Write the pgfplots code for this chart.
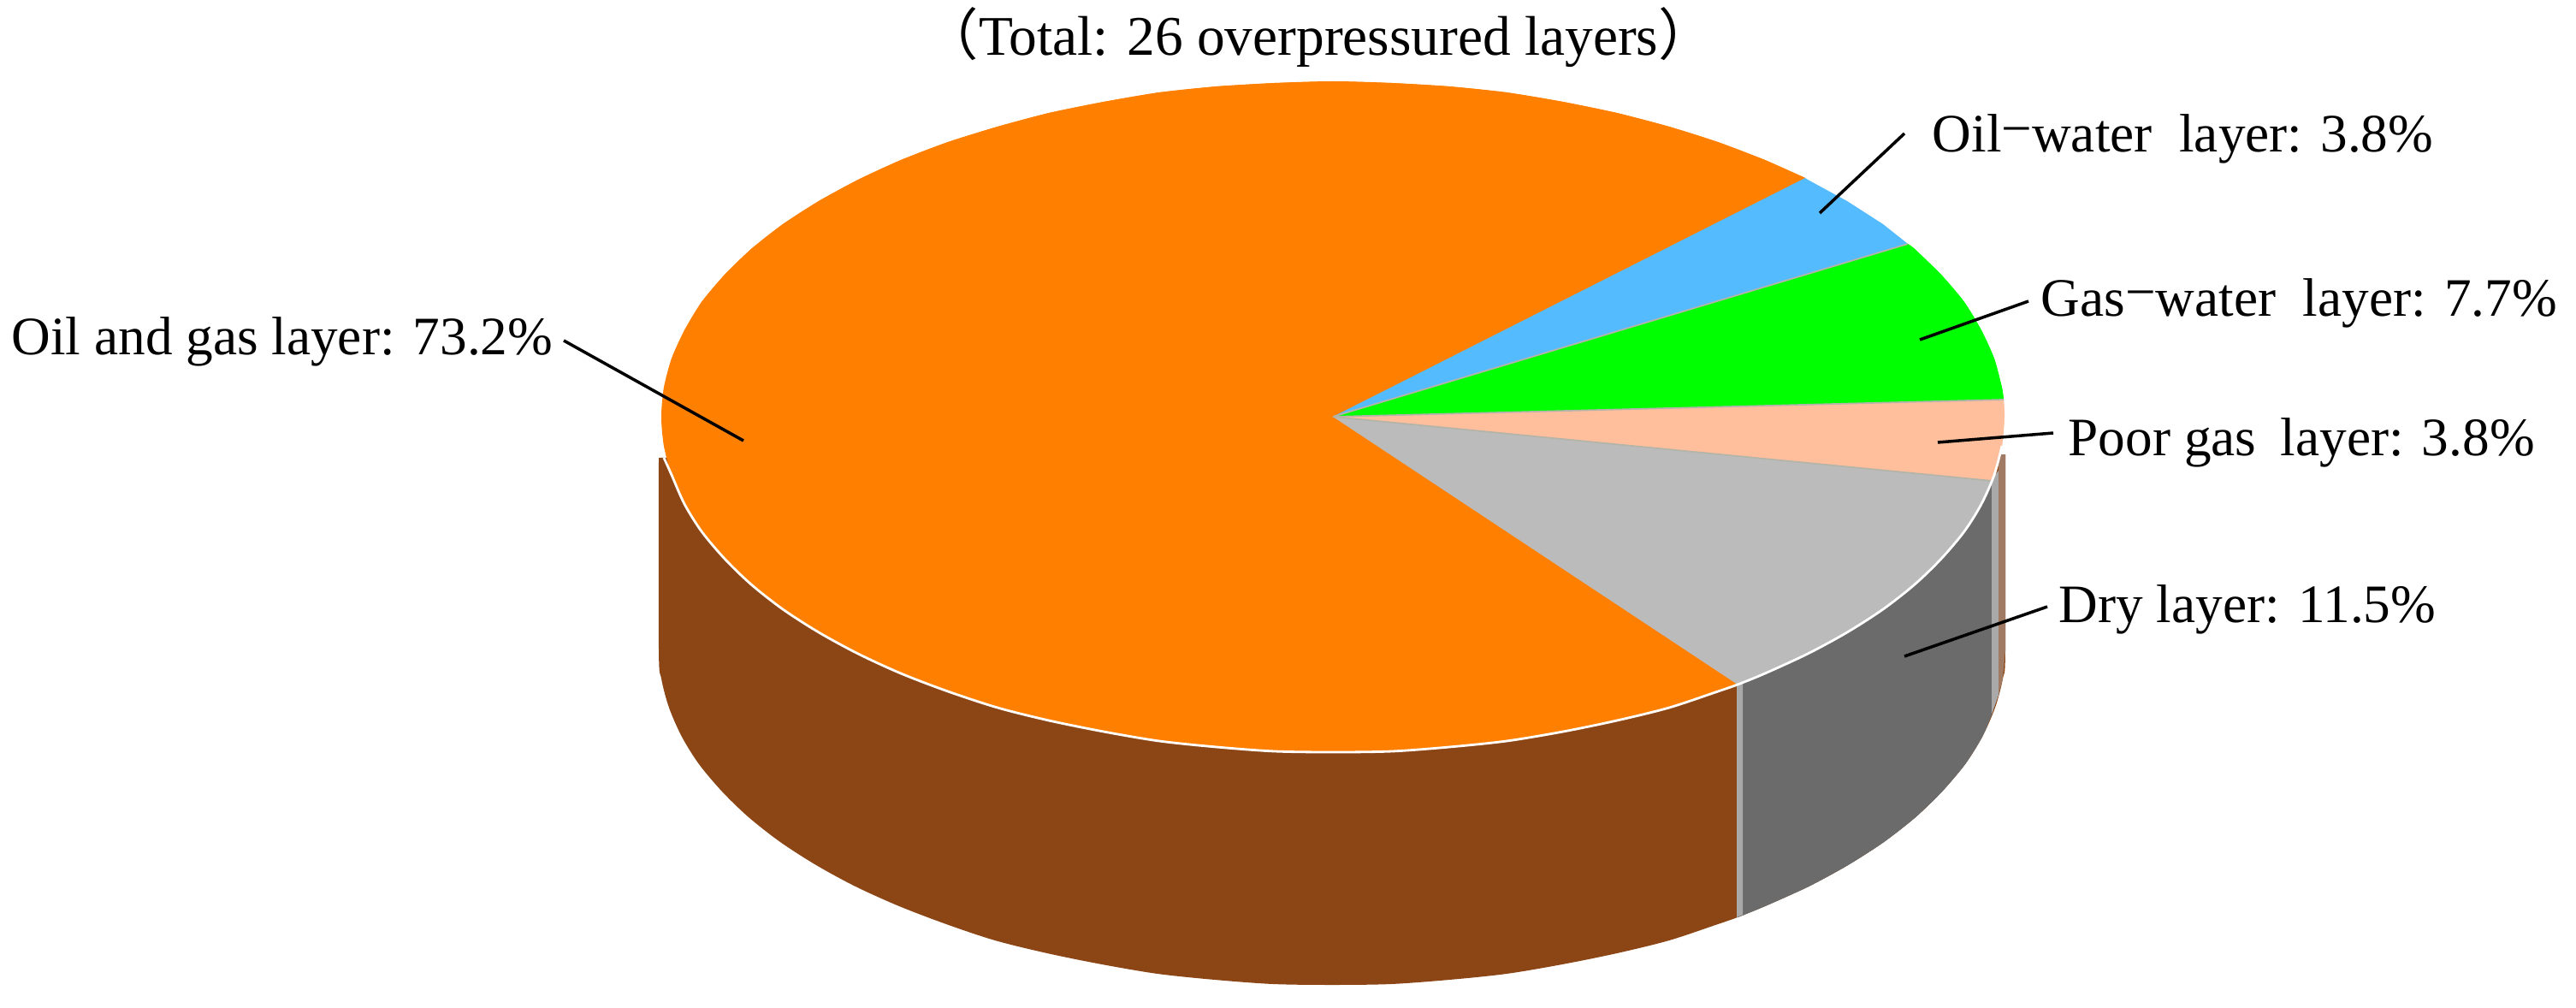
\documentclass[border=0pt]{standalone}
\usepackage{pgfplots}
\pgfplotsset{compat=1.18}
\usepackage{fontspec}
\setmainfont{Liberation Serif}
\newfontfamily\cjk{Noto Sans CJK SC}
\definecolor{cOrange}{HTML}{FF8000}
\definecolor{cBlue}{HTML}{55BBFF}
\definecolor{cGreen}{HTML}{00FF00}
\definecolor{cPeach}{HTML}{FFBE9C}
\definecolor{cGrey}{HTML}{BBBBBB}
\definecolor{cBrown}{HTML}{8C4515}
\definecolor{cDark}{HTML}{6B6B6B}
\definecolor{cStrip}{HTML}{A9A9A9}
\definecolor{cTan}{HTML}{A07A62}
\definecolor{cEdge}{HTML}{B4B4A8}
\newcommand{\dash}{\raisebox{0.1em}{−}}
\tikzset{lbl/.style={anchor=base west, inner sep=0pt, text=black,
  font=\fontsize{18}{20}\selectfont}}
\begin{document}
\begin{tikzpicture}
\begin{axis}[
  scale only axis, width=30.11cm, height=11.78cm,
  xmin=0, xmax=3011, ymin=0, ymax=1178,
  y dir=reverse, hide axis, clip=false,
]
% page extent
\addplot[fill=white, draw=none] coordinates {(0,0)(3011,0)(3011,1178)(0,1178)};

% side wall, whole silhouette in brown
\addplot[fill=cBrown, draw=none, smooth] coordinates {
  (770,535)(770,759)(773,793)(782,827)(797,861)(817,893)(844,925)(875,955)(912,984)
  (954,1011)(1000,1036)(1051,1059)(1106,1080)(1163,1099)(1224,1114)(1288,1127)
  (1353,1138)(1420,1145)(1488,1150)(1557,1151)(1626,1150)(1694,1145)(1761,1138)
  (1826,1127)(1890,1114)(1951,1099)(2008,1080)(2031,1072)(2063,1059)(2114,1036)
  (2160,1011)(2202,984)(2239,955)(2270,925)(2297,893)(2317,861)(2332,827)(2341,793)
  (2344,759)(2344,531)};
% side of the dry slice
\addplot[fill=cDark, draw=none] coordinates {
  (2031,790)(2031,1072)(2063,1059)(2114,1036)(2160,1011)(2202,984)(2239,955)(2270,925)
  (2297,893)(2317,861)(2328,835)(2328,560)};
\addplot[fill=cDark, draw=none, smooth] coordinates {
  (2031,1072)(2063,1059)(2114,1036)(2160,1011)(2202,984)(2239,955)(2270,925)
  (2297,893)(2317,861)(2328,835)};
\addplot[fill=cStrip, draw=none] coordinates {
  (2328,560)(2336,550)(2336,812)(2328,835)};
\addplot[fill=cTan, draw=none] coordinates {
  (2336,531)(2344,531)(2344,759)(2341,793)(2336,812)};
\addplot[fill=cStrip, draw=none] coordinates {
  (2030,795)(2037,795)(2037,1069)(2030,1072)};

% top face: wedges, then the rounded part of each rim
\addplot[fill=cOrange, draw=none] coordinates {
  (1558,487)(2110,208)(2063,187)(2008,166)(1951,148)(1890,132)(1827,119)(1761,108)
  (1694,101)(1627,97)(1558,95)(1490,97)(1422,101)(1355,108)(1290,119)(1226,132)
  (1166,148)(1108,166)(1053,187)(1003,210)(957,235)(915,262)(878,291)(847,321)
  (820,353)(800,386)(785,419)(776,453)(773,487)(776,521)(785,555)(800,589)(820,621)
  (847,653)(878,683)(915,712)(957,739)(1003,764)(1053,787)(1108,808)(1166,827)
  (1226,842)(1290,855)(1355,866)(1422,873)(1490,878)(1558,879)(1627,878)(1694,873)
  (1761,866)(1827,855)(1890,842)(1951,827)(2008,808)(2031,800)};
\addplot[fill=cOrange, draw=none, smooth] coordinates {
  (2110,208)(2063,187)(2008,166)(1951,148)(1890,132)(1827,119)(1761,108)
  (1694,101)(1627,97)(1558,95)(1490,97)(1422,101)(1355,108)(1290,119)(1226,132)
  (1166,148)(1108,166)(1053,187)(1003,210)(957,235)(915,262)(878,291)(847,321)
  (820,353)(800,386)(785,419)(776,453)(773,487)(776,521)(785,555)(800,589)(820,621)
  (847,653)(878,683)(915,712)(957,739)(1003,764)(1053,787)(1108,808)(1166,827)
  (1226,842)(1290,855)(1355,866)(1422,873)(1490,878)(1558,879)(1627,878)(1694,873)
  (1761,866)(1827,855)(1890,842)(1951,827)(2008,808)(2031,800)};
\addplot[fill=cBlue, draw=none] coordinates {
  (1558,487)(2230,285)(2201,262)(2159,235)(2113,210)(2110,208)};
\addplot[fill=cGreen, draw=none] coordinates {
  (1558,487)(2342,467)(2340,453)(2331,419)(2316,386)(2296,353)(2269,321)(2238,291)(2230,285)};
\addplot[fill=cGreen, draw=none, smooth] coordinates {
  (2342,467)(2340,453)(2331,419)(2316,386)(2296,353)(2269,321)(2238,291)(2230,285)};
\addplot[fill=cPeach, draw=none] coordinates {
  (1558,487)(2329,562)(2331,555)(2340,521)(2343,487)(2342,467)};
\addplot[fill=cPeach, draw=none, smooth] coordinates {
  (2329,562)(2331,555)(2340,521)(2343,487)(2342,467)};
\addplot[fill=cGrey, draw=none] coordinates {
  (1558,487)(2031,800)(2063,787)(2113,764)(2159,739)(2201,712)(2238,683)(2269,653)
  (2296,621)(2316,589)(2329,562)};
\addplot[fill=cGrey, draw=none, smooth] coordinates {
  (2031,800)(2063,787)(2113,764)(2159,739)(2201,712)(2238,683)(2269,653)
  (2296,621)(2316,589)(2329,562)};

% slice edges
\addplot[draw=cEdge, line width=0.5pt] coordinates {(1558,487)(2230,285)};
\addplot[draw=cEdge, line width=0.5pt] coordinates {(1558,487)(2342,467)};
\addplot[draw=cEdge, line width=0.5pt] coordinates {(1558,487)(2329,562)};

% white rim along the front
\addplot[draw=white, line width=0.8pt, smooth] coordinates {
  (776,535)(785,555)(800,589)(820,621)(847,653)(878,683)(915,712)(957,739)(1003,764)
  (1053,787)(1108,808)(1166,827)(1226,842)(1290,855)(1355,866)(1422,873)(1490,878)
  (1558,879)(1627,878)(1694,873)(1761,866)(1827,855)(1890,842)(1951,827)(2008,808)
  (2031,800)(2063,787)(2113,764)(2159,739)(2201,712)(2238,683)(2269,653)(2296,621)
  (2316,589)(2331,555)(2340,521)};

% leaders
\addplot[draw=black, line width=1pt] coordinates {(659,398)(869,515)};
\addplot[draw=black, line width=1pt] coordinates {(2226,156)(2127,249)};
\addplot[draw=black, line width=1pt] coordinates {(2371,352)(2244,397)};
\addplot[draw=black, line width=1pt] coordinates {(2400,506)(2265,517)};
\addplot[draw=black, line width=1pt] coordinates {(2393,709)(2226,767)};

% labels
\node[lbl, font=\fontsize{18.6}{20}\selectfont] at (axis cs:1078,65) {{\cjk （}Total: 26 overpressured layers{\cjk ）}};
\node[lbl] at (axis cs:13,414) {Oil and gas layer: 73.2\%};
\node[lbl] at (axis cs:2258,178) {Oil\dash water\hspace{0.25em} layer: 3.8\%};
\node[lbl] at (axis cs:2385,369) {Gas\dash water\hspace{0.25em} layer: 7.7\%};
\node[lbl] at (axis cs:2417,532) {Poor gas\hspace{0.2em} layer: 3.8\%};
\node[lbl] at (axis cs:2406,727) {Dry layer: 11.5\%};
\end{axis}
\end{tikzpicture}
\end{document}
